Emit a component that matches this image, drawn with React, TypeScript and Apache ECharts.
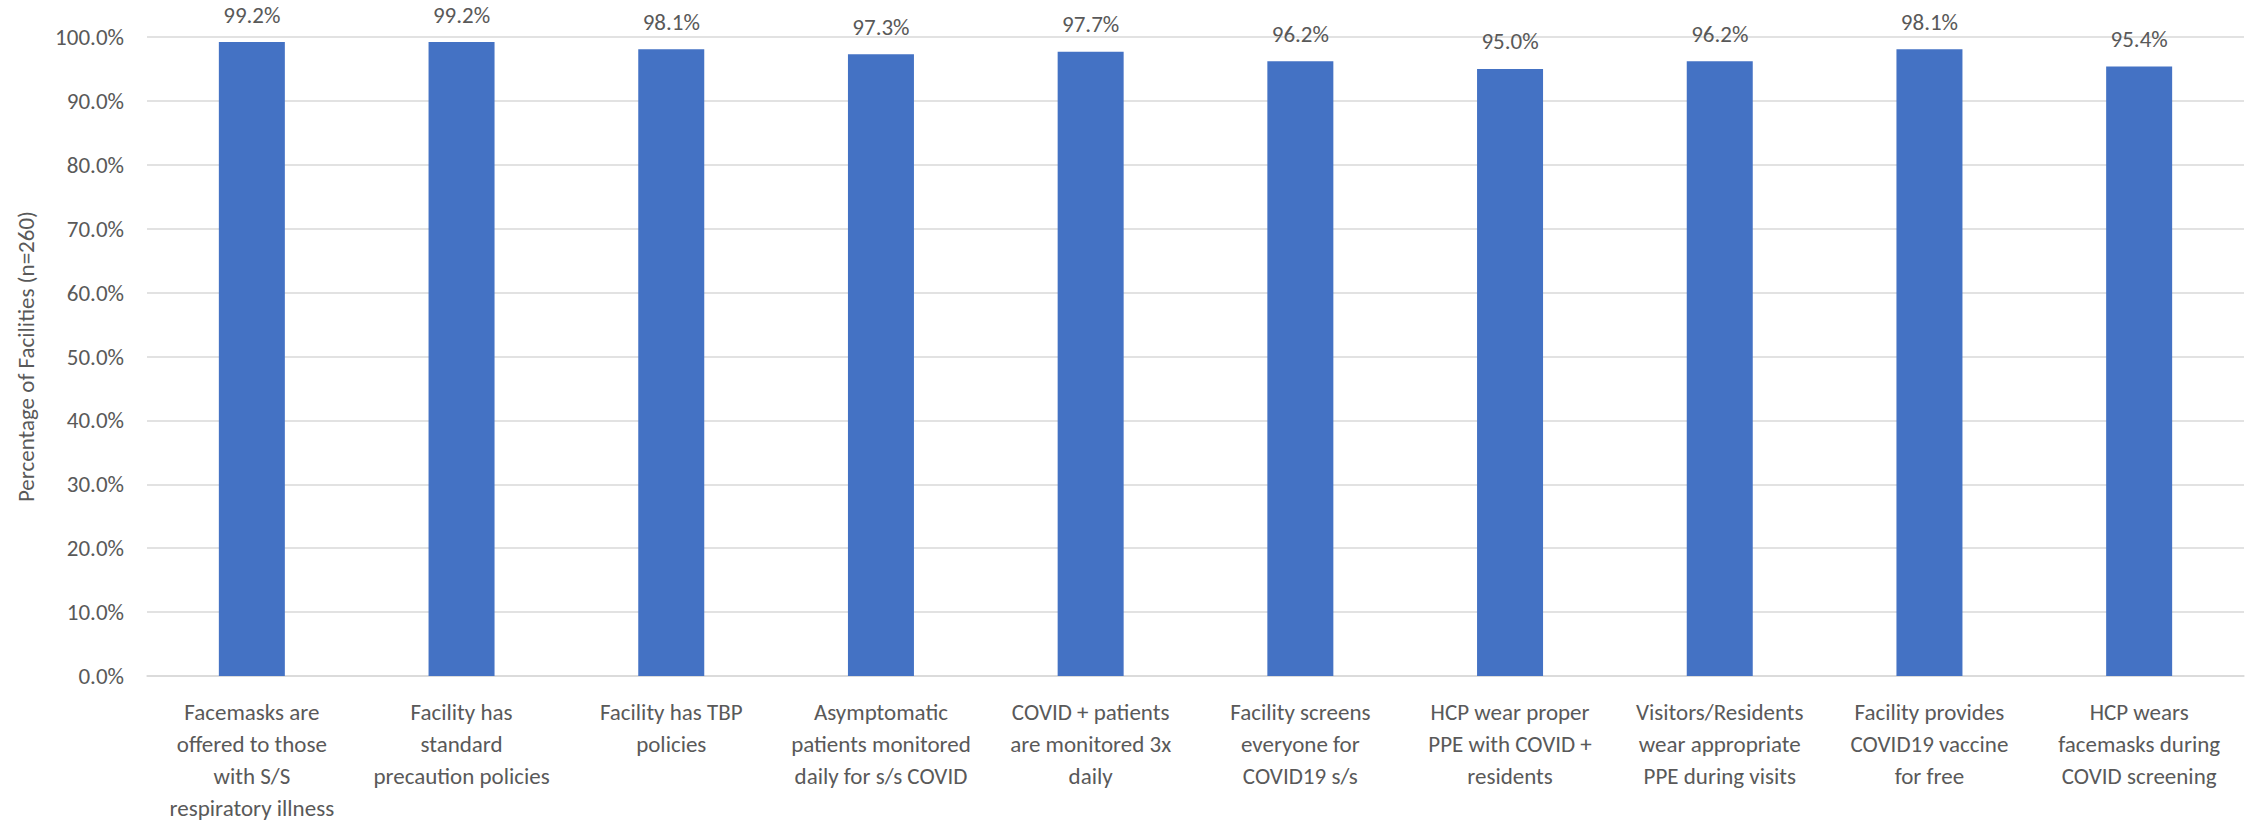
import React, { useEffect, useRef } from "react";
import * as echarts from "echarts";

const categories: string[] = [
  "Facemasks are\noffered to those\nwith S/S\nrespiratory illness",
  "Facility has\nstandard\nprecaution policies",
  "Facility has TBP\npolicies",
  "Asymptomatic\npatients monitored\ndaily for s/s COVID",
  "COVID + patients\nare monitored 3x\ndaily",
  "Facility screens\neveryone for\nCOVID19 s/s",
  "HCP wear proper\nPPE with COVID +\nresidents",
  "Visitors/Residents\nwear appropriate\nPPE during visits",
  "Facility provides\nCOVID19 vaccine\nfor free",
  "HCP wears\nfacemasks during\nCOVID screening",
];

const percentages: number[] = [99.2, 99.2, 98.1, 97.3, 97.7, 96.2, 95.0, 96.2, 98.1, 95.4];

const yAxisTitle = "Percentage of Facilities (n=260)";

const FONT = "Carlito, Calibri, Lato, 'Open Sans', sans-serif";
const TEXT = "#595959";

export default function App() {
  const ref = useRef<HTMLDivElement>(null);
  useEffect(() => {
    if (!ref.current) return;
    const chart = echarts.init(ref.current, undefined, { renderer: "svg" });
    chart.setOption({
      animation: false,
      backgroundColor: "#ffffff",
      textStyle: { fontFamily: FONT },
      grid: { left: 147, right: 16, top: 37, bottom: 147, containLabel: false },
      xAxis: {
        type: "category",
        data: categories,
        axisLine: { show: true, lineStyle: { color: "#D9D9D9", width: 1.5 } },
        axisTick: { show: false },
        axisLabel: {
          interval: 0,
          color: TEXT,
          fontSize: 23,
          fontFamily: FONT,
          lineHeight: 32,
          margin: 20,
          align: "center",
        },
      },
      yAxis: {
        type: "value",
        min: 0,
        max: 100,
        interval: 10,
        name: yAxisTitle,
        nameLocation: "middle",
        nameGap: 110,
        nameTextStyle: { color: TEXT, fontSize: 23, fontFamily: FONT },
        axisLine: { show: false },
        axisTick: { show: false },
        axisLabel: {
          color: TEXT,
          fontSize: 23,
          fontFamily: FONT,
          margin: 23,
          formatter: (v: number) => v.toFixed(1) + "%",
        },
        splitLine: { lineStyle: { color: "#D9D9D9", width: 1.5 } },
      },
      series: [
        {
          type: "bar",
          data: percentages,
          barWidth: 66,
          itemStyle: { color: "#4472C4" },
          label: {
            show: true,
            position: "top",
            distance: 16,
            color: TEXT,
            fontSize: 23,
            fontFamily: FONT,
            formatter: (p: any) => Number(p.value).toFixed(1) + "%",
          },
        },
      ],
    });
    return () => chart.dispose();
  }, []);
  return (
    <div
      ref={ref}
      style={{ position: "fixed", left: 0, top: 0, width: 2260, height: 824 }}
    />
  );
}
